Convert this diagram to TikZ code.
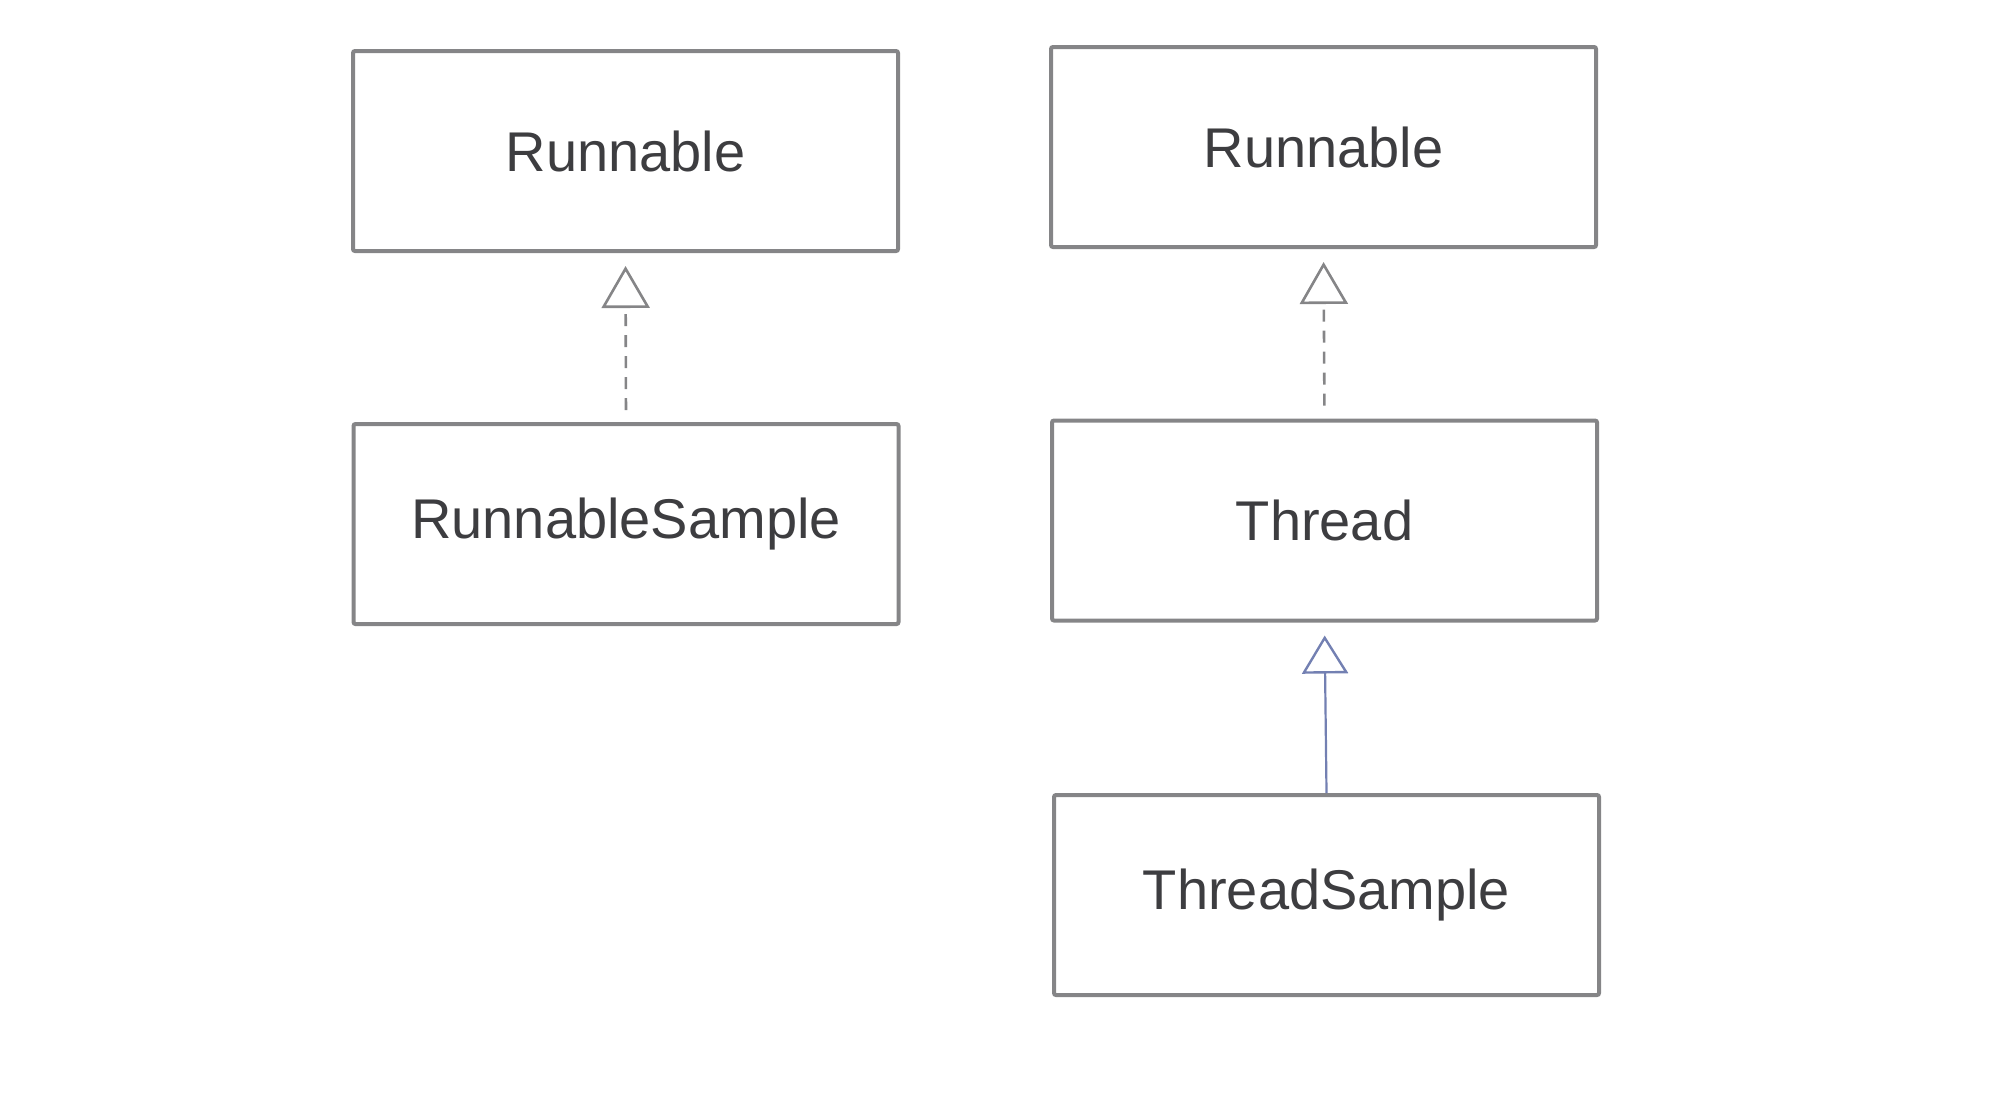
\documentclass[tikz,border=0pt]{standalone}
\usepackage{fontspec}
\setmainfont{Liberation Sans}
\usetikzlibrary{arrows.meta}
\definecolor{BoxGray}{rgb}{0.52, 0.52, 0.53}
\definecolor{TextGray}{rgb}{0.24, 0.24, 0.25}
\definecolor{LinkBlue}{rgb}{0.45, 0.50, 0.70}

\tikzset{
	classbox/.style={draw=BoxGray, line width=2pt, rounded corners=1pt, minimum width=272.5pt, minimum height=100pt, inner sep=0pt, text=TextGray, font=\fontsize{28}{33}\selectfont},
	realizes/.style={draw=BoxGray, line width=1.3pt, dash pattern=on 6pt off 4.5pt, -{Triangle[open, length=21pt, width=24pt, line width=1.3pt]}},
	extends/.style={draw=LinkBlue, line width=1.1pt, -{Triangle[open, length=19pt, width=23pt, line width=1.2pt]}}
}

\begin{document}
\begin{tikzpicture}[x=0.5pt,y=0.5pt,yscale=-1,xscale=1]
		% Set diagram to the reference size: 2000 x 1116
		\useasboundingbox (0,0) rectangle (2000,1116);

		% Left column: Runnable and RunnableSample
		\node[classbox] (runL) at (625.5,151) {Runnable};
		\node[classbox] (runSampleL) at (626,524) {RunnableSample};

		% Right column: Runnable, Thread and ThreadSample
		\node[classbox] (runR) at (1323.5,147) {Runnable};
		\node[classbox] (thread) at (1324.5,520.5) {Thread};
		\node[classbox] (threadSample) at (1326.5,895) {ThreadSample};

		% Dashed arrows (implements Runnable)
		\draw[realizes, shorten <=6pt, shorten >=6.5pt] (runSampleL.north) -- (runL.south);
		\draw[realizes, shorten <=6.5pt, shorten >=6.5pt] (thread.north) -- (runR.south);

		% Solid arrow (extends Thread)
		\draw[extends, shorten >=6.5pt] (threadSample.north) -- (thread.south);
	\end{tikzpicture}
\end{document}
